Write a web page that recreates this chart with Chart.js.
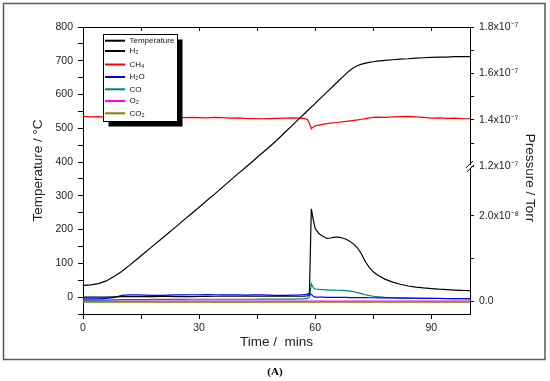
<!DOCTYPE html>
<html lang="en">
<head>
<meta charset="UTF-8">
<title>Temperatura e pressao</title>
<style>
  body { margin: 0; background: #fff; }
</style>
</head>
<body>
<canvas id="grafico" width="550" height="381"></canvas>

<script src="https://cdn.jsdelivr.net/npm/chart.js"></script>
<script>
// tempo em minutos (mais denso perto do pico das 59 min)
const tempo = [0,2,4,6,8,10,12,14,16,18,20,22,24,26,28,30,32,34,36,38,40,42,44,46,48,50,52,54,56,
  57,58,58.5,59,59.5,60,
  61,62,63,64,65,66,67,68,69,70,71,72,73,74,75,76,
  78,80,82,84,86,88,90,92,94,96,98,100]

// temperatura em graus C (eixo da esquerda)
const temperatura = [35,36,40,48,61,76,94,113,132,151,170,189,208,228,247,266,286,305,325,345,365,384,404,424,443,464,486,508,530,
  541,552,557,563,568,574,
  585,596,607,618,629,640,651,662,672,680,686,690,693,695,697,699,
  701,703,705,706,708,709,710,711,711,712,712,712]

// CH4 em 1e-7 Torr (parte de cima do eixo da direita)
const ch4 = [1.415,1.413,1.414,1.411,1.412,1.411,1.413,1.412,1.410,1.412,1.413,1.411,1.412,1.410,1.411,1.410,1.409,1.411,1.410,1.408,1.409,1.407,1.406,1.405,1.406,1.407,1.408,1.409,1.408,
  1.407,1.402,1.385,1.362,1.370,1.375,
  1.378,1.381,1.384,1.386,1.388,1.390,1.392,1.394,1.396,1.398,1.400,1.403,1.406,1.409,1.411,1.412,
  1.411,1.413,1.414,1.415,1.413,1.411,1.408,1.409,1.407,1.408,1.406,1.405]

// os outros gases em 1e-9 Torr (parte de baixo do eixo da direita)
const h2 = [1.0,1.0,1.0,1.0,1.05,1.1,1.1,1.1,1.1,1.1,1.15,1.15,1.1,1.1,1.1,1.15,1.15,1.2,1.2,1.2,1.2,1.2,1.2,1.2,1.2,1.2,1.2,1.2,1.2,
  1.2,1.3,1.5,21.6,19.0,17.0,
  15.8,15.2,14.7,14.8,15.0,15.0,14.8,14.5,14.0,13.3,12.4,11.0,9.2,7.9,6.9,6.2,
  5.2,4.5,4.0,3.6,3.35,3.15,3.0,2.85,2.75,2.65,2.55,2.5]

const h2o = [0.6,0.6,0.6,0.7,0.9,1.4,1.5,1.5,1.45,1.4,1.4,1.45,1.5,1.5,1.55,1.55,1.6,1.55,1.5,1.5,1.5,1.45,1.5,1.5,1.45,1.4,1.4,1.45,1.5,
  1.55,1.7,1.9,1.6,1.2,1.0,
  1.0,0.98,0.96,0.95,0.95,0.93,0.92,0.92,0.9,0.9,0.88,0.88,0.86,0.85,0.85,0.84,
  0.82,0.8,0.78,0.76,0.74,0.72,0.7,0.68,0.66,0.64,0.62,0.6]

const co = [0.3,0.3,0.3,0.3,0.35,0.4,0.4,0.4,0.4,0.45,0.45,0.45,0.45,0.45,0.5,0.5,0.5,0.5,0.5,0.5,0.5,0.5,0.5,0.55,0.55,0.55,0.55,0.55,0.6,
  0.6,0.7,1.0,4.1,3.2,2.9,
  2.8,2.75,2.7,2.65,2.62,2.6,2.55,2.5,2.4,2.25,2.05,1.8,1.55,1.35,1.2,1.1,
  0.95,0.85,0.8,0.78,0.76,0.74,0.72,0.7,0.68,0.66,0.64,0.62]

const tempoPlano = [0, 50, 100]
const o2 = [0.05, 0.05, 0.05]
const co2 = [-0.15, -0.15, -0.15]

const nomes = ['Temperature', 'H₂', 'CH₄', 'H₂O', 'CO', 'O₂', 'CO₂']
const cores = ['#000000', '#000000', '#ff0000', '#0000ff', '#008080', '#ff00ff', '#808000']

// ticks e rotulos
const xTicks = [0, 15, 30, 45, 60, 75, 90]
const xLabels = ['0', '', '30', '', '60', '', '90']
const yTicks = [-50, 0, 50, 100, 150, 200, 250, 300, 350, 400, 450, 500, 550, 600, 650, 700, 750, 800]
const yLabels = ['', '0', '', '100', '', '200', '', '300', '', '400', '', '500', '', '600', '', '700', '', '800']
const cimaTicks = [1.2e-7, 1.3e-7, 1.4e-7, 1.5e-7, 1.6e-7, 1.7e-7, 1.8e-7]
const cimaLabels = ['1.2x10⁻⁷', '', '1.4x10⁻⁷', '', '1.6x10⁻⁷', '', '1.8x10⁻⁷']
const baixoTicks = [0, 1e-8, 2e-8]
const baixoLabels = ['0.0', '', '2.0x10⁻⁸']

const fonte = '"Liberation Sans", Arial, sans-serif'
Chart.defaults.font.family = fonte
Chart.defaults.color = '#222'

const pontos = (ts, ys, f) => ts.map((t, i) => ({ x: t, y: ys[i] * f }))

const serie = (i, dados, eixo) => ({
  label: nomes[i],
  data: dados,
  borderColor: cores[i],
  borderWidth: 1.2,
  pointRadius: 0,
  tension: 0,
  fill: false,
  yAxisID: eixo
})

const datasets = [
  serie(0, pontos(tempo, temperatura, 1), 'y'),
  serie(1, pontos(tempo, h2, 1e-9), 'yBaixo'),
  serie(2, pontos(tempo, ch4, 1e-7), 'yCima'),
  serie(3, pontos(tempo, h2o, 1e-9), 'yBaixo'),
  serie(4, pontos(tempo, co, 1e-9), 'yBaixo'),
  serie(6, pontos(tempoPlano, co2, 1e-9), 'yBaixo'),
  serie(5, pontos(tempoPlano, o2, 1e-9), 'yBaixo')
]

const fixarTicks = lista => s => { s.ticks = lista.map(v => ({ value: v })) }
const tickFont = { size: 10.5 }
const eixoPreto = { color: '#000', width: 1 }

const decoracao = {
  id: 'decoracao',
  beforeDraw(chart) {
    const c = chart.ctx
    c.save()
    c.fillStyle = '#fff'
    c.fillRect(0, 0, chart.width, chart.height)
    c.strokeStyle = '#5a5a5a'
    c.lineWidth = 1.5
    c.strokeRect(3.5, 3.5, 541.5, 356)
    c.restore()
  },
  afterDraw(chart) {
    const c = chart.ctx
    const a = chart.chartArea
    c.save()

    // quebra do eixo da direita
    const by = chart.scales.yBaixo.top
    c.fillStyle = '#fff'
    c.fillRect(a.right - 1.5, by - 1.5, 3, 3)
    c.strokeStyle = '#000'
    c.lineWidth = 1
    c.beginPath()
    c.moveTo(a.right - 4, by + 1.5); c.lineTo(a.right + 3, by - 5.5)
    c.moveTo(a.right - 3, by + 5.5); c.lineTo(a.right + 4, by - 1.5)
    c.stroke()

    // legenda com sombra
    const lx = 103.5, ly = 34.5, lw = 74, lh = 87
    c.fillStyle = '#000'
    c.fillRect(lx + 5, ly + 5, lw, lh)
    c.fillStyle = '#fff'
    c.fillRect(lx, ly, lw, lh)
    c.strokeStyle = '#000'
    c.strokeRect(lx, ly, lw, lh)
    const linhas = [40.7, 51, 64.5, 77, 89.3, 101, 113.3]
    c.font = '8px ' + fonte
    c.textBaseline = 'middle'
    nomes.forEach((n, i) => {
      c.strokeStyle = cores[i]
      c.lineWidth = 2
      c.beginPath()
      c.moveTo(105, linhas[i]); c.lineTo(125, linhas[i])
      c.stroke()
      c.fillStyle = '#111'
      c.fillText(n, 129.5, linhas[i])
    })

    // titulo do eixo da direita
    c.translate(530, 178)
    c.rotate(Math.PI / 2)
    c.font = '13.5px ' + fonte
    c.fillStyle = '#222'
    c.textAlign = 'center'
    c.fillText('Pressure / Torr', 0, 0)
    c.setTransform(1, 0, 0, 1, 0, 0)

    // legenda da figura
    c.font = 'bold 11px "Liberation Serif", "Times New Roman", serif'
    c.fillStyle = '#000'
    c.textAlign = 'center'
    c.fillText('(A)', 275, 372)
    c.restore()
  }
}

const ctx = document.getElementById('grafico')
const grafico = new Chart(ctx, {
  type: 'line',
  data: { datasets: datasets },
  plugins: [decoracao],
  options: {
    responsive: false,
    animation: false,
    layout: { padding: 0 },
    plugins: { legend: { display: false }, tooltip: { enabled: false } },
    scales: {
      x: {
        type: 'linear', position: 'bottom', min: 0, max: 100,
        afterBuildTicks: fixarTicks(xTicks),
        afterFit: s => { s.height = 67 },
        ticks: { callback: (v, i) => xLabels[i], autoSkip: false, maxRotation: 0, padding: 3, font: tickFont },
        grid: { drawOnChartArea: false, tickLength: 5, color: '#000' },
        border: eixoPreto,
        title: { display: true, text: 'Time /  mins', font: { size: 13.5 }, padding: { top: 0, bottom: 31 } }
      },
      x2: {
        type: 'linear', position: 'top', min: 0, max: 100,
        afterBuildTicks: fixarTicks(xTicks),
        afterFit: s => { s.height = 27 },
        ticks: { display: false },
        grid: { drawOnChartArea: false, tickLength: -4, color: '#000' },
        border: eixoPreto
      },
      y: {
        position: 'left', min: -50, max: 800,
        afterBuildTicks: fixarTicks(yTicks),
        afterFit: s => { s.width = 83 },
        ticks: { callback: (v, i) => yLabels[i], autoSkip: false, padding: 5, font: tickFont },
        grid: { drawOnChartArea: false, tickLength: 5, color: '#000' },
        border: eixoPreto,
        title: { display: true, text: 'Temperature / °C', font: { size: 13.5 }, padding: { top: 30, bottom: 0 } }
      },
      yCima: {
        position: 'right', stack: 'direita', stackWeight: 139.4,
        min: 1.2e-7, max: 1.8e-7,
        afterBuildTicks: fixarTicks(cimaTicks),
        afterFit: s => { s.width = 80 },
        ticks: { callback: (v, i) => cimaLabels[i], autoSkip: false, padding: 5, font: tickFont },
        grid: { drawOnChartArea: false, tickLength: 4, color: '#000' },
        border: eixoPreto
      },
      yBaixo: {
        position: 'right', stack: 'direita', stackWeight: 147.6,
        min: -2.94e-9, max: 3.15e-8,
        afterBuildTicks: fixarTicks(baixoTicks),
        afterFit: s => { s.width = 80 },
        ticks: { callback: (v, i) => baixoLabels[i], autoSkip: false, padding: 5, font: tickFont },
        grid: { drawOnChartArea: false, tickLength: 4, color: '#000' },
        border: eixoPreto
      }
    }
  }
})
</script>
</body>
</html>
